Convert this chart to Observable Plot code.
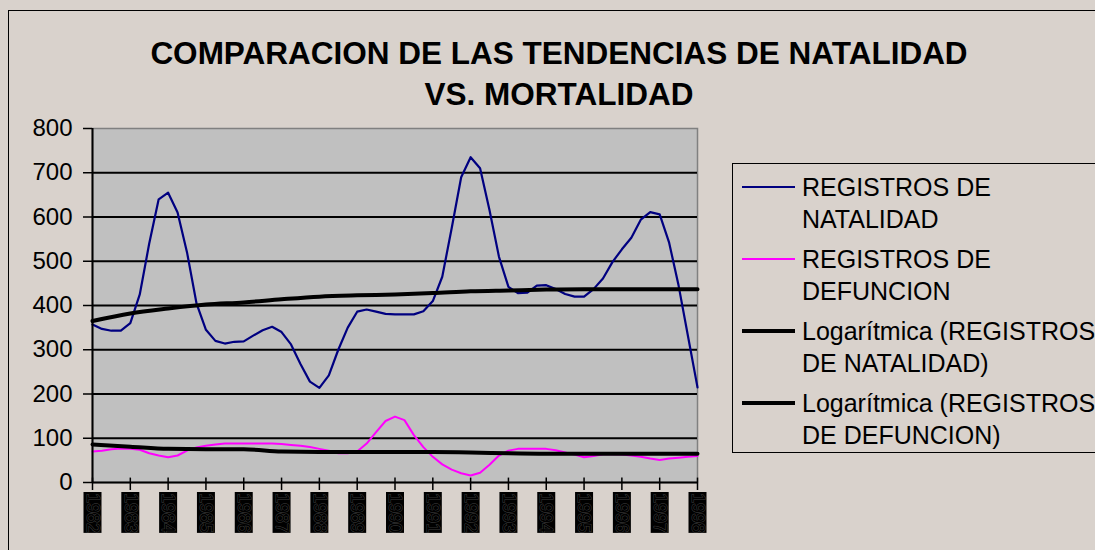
<!DOCTYPE html>
<html><head><meta charset="utf-8">
<script src="https://cdn.jsdelivr.net/npm/d3@7"></script>
<script src="https://cdn.jsdelivr.net/npm/@observablehq/plot@0.6"></script>
<style>
html,body{margin:0;padding:0;background:#d9d2cc;}
#chart{position:relative;width:1095px;height:550px;overflow:hidden;background:#d9d2cc;font-family:"Liberation Sans",Arial,sans-serif;color:#000;}
#border{position:absolute;left:8px;top:10px;width:1200px;height:600px;border:1px solid #000;box-sizing:border-box;}
#plot{position:absolute;left:0;top:0;}
#title{position:absolute;left:0;top:33px;width:1118px;text-align:center;font-weight:bold;font-size:31.5px;line-height:41px;}
.leg-box{position:absolute;left:732px;top:163px;width:400px;height:290px;border:1.5px solid #000;box-sizing:border-box;}
.leg-line{position:absolute;left:742px;width:53px;}
.leg-text{position:absolute;left:802px;font-size:25px;line-height:32px;white-space:nowrap;}
</style></head>
<body>
<div id="chart">
  <div id="border"></div>
  <div id="plot"></div>
  <div id="title">COMPARACION DE LAS TENDENCIAS DE NATALIDAD<br>VS. MORTALIDAD</div>
  <div id="legend"></div>
</div>
<script>
// ---- data ----
const yearLabels = [1982,1983,1984,1985,1986,1987,1988,1989,1990,1991,1992,1993,1994,1995,1996,1997,1998];
const yTicks = [0,100,200,300,400,500,600,700,800];
const gridValues = [100,200,300,400,500,600,700];
const startYear = 1982;
const stepYears = 0.25; // quarterly points

const natalidad = [357,347,343,343,360,425,540,640,655,610,520,405,345,320,314,318,
  319,332,344,352,340,312,268,228,214,242,300,350,386,391,386,381,
  380,380,380,387,410,465,575,690,735,710,615,510,442,428,429,445,
  446,437,426,420,420,437,461,498,527,553,594,611,606,542,445,330,215];

const defuncion = [70,72,75,77,76,74,66,61,57,61,72,79,83,86,88,88,
  88,88,88,88,87,85,83,80,76,72,66,66,70,88,114,139,
  149,141,107,80,58,41,29,21,16,22,40,61,72,76,76,76,
  76,73,68,63,57,60,64,64,63,61,58,54,51,54,56,58,60];

const trendNatalidad = [365,382,393,402,407,414,420,423,425,428,432,434,436,437,437,437,437];
const trendDefuncion = [86,81,76,75,75,70,69,69,69,69,68,66,65,65,65,65,65];

const seriesNames = [
  ["REGISTROS DE","NATALIDAD"],
  ["REGISTROS DE","DEFUNCION"],
  ["Logarítmica (REGISTROS","DE NATALIDAD)"],
  ["Logarítmica (REGISTROS","DE DEFUNCION)"]
];
const seriesColors = ["#000080","#ff00ff","#000000","#000000"];
const seriesWidths = [2,2,4,4];

// ---- tables ----
const natRows = natalidad.map((v,i)=>({t:startYear+i*stepYears, v}));
const defRows = defuncion.map((v,i)=>({t:startYear+i*stepYears, v}));
const tNatRows = trendNatalidad.map((v,i)=>({t:yearLabels[i], v}));
const tDefRows = trendDefuncion.map((v,i)=>({t:yearLabels[i], v}));

const chart = Plot.plot({
  width:1095, height:550,
  marginLeft:92, marginRight:398, marginTop:128, marginBottom:68,
  x:{domain:[1982,1998], axis:null, label:null},
  y:{domain:[0,800], axis:null, label:null},
  style:{background:"transparent", fontFamily:"'Liberation Sans', Arial, sans-serif", color:"black", overflow:"visible"},
  marks:[
    Plot.frame({fill:"#c0c0c0", stroke:"#808080", strokeWidth:1.5}),
    Plot.ruleY(gridValues, {stroke:"black", strokeWidth:2}),
    Plot.line(natRows, {x:"t", y:"v", stroke:seriesColors[0], strokeWidth:2.2}),
    Plot.line(defRows, {x:"t", y:"v", stroke:seriesColors[1], strokeWidth:2}),
    Plot.line(tNatRows, {x:"t", y:"v", stroke:"black", strokeWidth:4, curve:"monotone-x"}),
    Plot.line(tDefRows, {x:"t", y:"v", stroke:"black", strokeWidth:4, curve:"monotone-x"}),
    Plot.ruleX([1982], {stroke:"black", strokeWidth:2}),
    Plot.ruleY([0], {stroke:"black", strokeWidth:2}),
    Plot.axisY(yTicks, {tickSize:9, tickPadding:11, fontSize:24, strokeWidth:1.5, label:null}),
    Plot.axisX(yearLabels, {tickSize:8, tickFormat:()=>"", strokeWidth:1.5, label:null}),
    Plot.ruleX(yearLabels, {x:d=>d, y1:0, y2:10, stroke:"black", strokeWidth:1.5}),
    Plot.ruleX(yearLabels, {x:d=>d, y1:-22.6, y2:-115, stroke:"black", strokeWidth:18}),
    Plot.text(yearLabels, {x:d=>d, y:-69, text:d=>String(d), rotate:90, fontSize:18,
      fill:"black", stroke:"#3c3c3c", strokeWidth:1})
  ]
});
document.getElementById("plot").appendChild(chart);

// ---- legend ----
const leg = document.getElementById("legend");
const box = document.createElement("div"); box.className="leg-box"; leg.appendChild(box);
const tops = [171,243,315,387];
seriesNames.forEach((lines,i)=>{
  const ln = document.createElement("div");
  ln.className="leg-line";
  ln.style.top = (tops[i]+16-seriesWidths[i]/2)+"px";
  ln.style.height = seriesWidths[i]+"px";
  ln.style.background = seriesColors[i];
  leg.appendChild(ln);
  const tx = document.createElement("div");
  tx.className="leg-text";
  tx.style.top = tops[i]+"px";
  tx.innerHTML = lines.join("<br>");
  leg.appendChild(tx);
});
</script>
</body></html>
